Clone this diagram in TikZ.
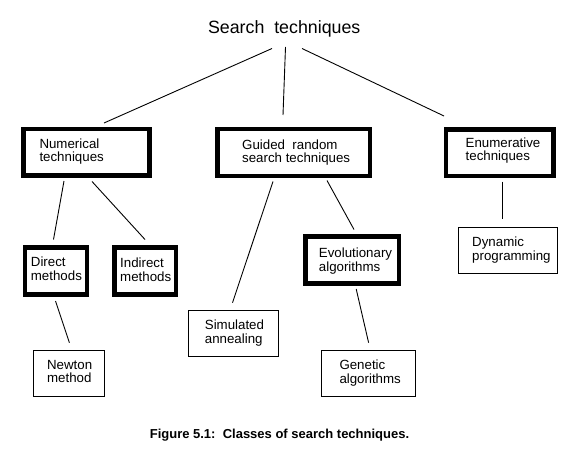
\documentclass[tikz,border=0pt]{standalone}
\usepackage{fontspec}
\setmainfont{Liberation Sans}
\usetikzlibrary{calc}
\begin{document}
\begin{tikzpicture}[x=1pt,y=-1pt,
  tbox/.style={draw, line width=4.5pt, inner sep=0pt, anchor=north west},
  nbox/.style={draw, line width=1pt, inner sep=0pt, anchor=north west},
  lbl/.style={font=\fontsize{13.3}{13.5}\selectfont, align=left, inner sep=0pt, anchor=north west},
  conn/.style={line width=0.9pt}]
\useasboundingbox[fill=white] (0,0) rectangle (585,465);
% title
\node[font=\fontsize{17.8}{20}\selectfont, inner sep=0pt, anchor=base] (title) at (284.2,33.5) {Search\ \ techniques};
% level 1
\node[tbox, minimum width=126.2pt, minimum height=46.5pt] (num) at (21,126.7) {};
\node[tbox, minimum width=152.5pt, minimum height=46.5pt] (guided) at (215,127) {};
\node[tbox, minimum width=107.5pt, minimum height=46.2pt] (enum) at (443.5,127.3) {};
% level 2
\node[tbox, minimum width=62.1pt, minimum height=47.2pt] (direct) at (22.7,245) {};
\node[tbox, minimum width=61.2pt, minimum height=47.2pt] (indirect) at (112.3,245) {};
\node[tbox, minimum width=93.5pt, minimum height=47.2pt] (evo) at (303,234) {};
\node[nbox, minimum width=99.5pt, minimum height=46pt] (dyn) at (457.5,226.5) {};
\node[nbox, minimum width=90pt, minimum height=46.5pt] (sim) at (188,309.5) {};
% level 3
\node[nbox, minimum width=71.5pt, minimum height=46.5pt] (newton) at (32.5,349.5) {};
\node[nbox, minimum width=93.5pt, minimum height=46.5pt] (genetic) at (321,349.5) {};
% texts
\node[lbl] (numt) at ($(num.north west)+(18.3,11.6)$) {Numerical\\techniques};
\node[lbl] (guidedt) at ($(guided.north west)+(27,12.5)$) {Guided\ \ random\\search\ techniques};
\node[lbl] (enumt) at ($(enum.north west)+(22,10.2)$) {Enumerative\\techniques};
\node[lbl] (directt) at ($(direct.north west)+(8,11.7)$) {Direct\\methods};
\node[lbl] (indirectt) at ($(indirect.north west)+(7.7,13)$) {Indirect\\methods};
\node[lbl] (evot) at ($(evo.north west)+(15.7,14)$) {Evolutionary\\algorithms};
\node[lbl] (dynt) at ($(dyn.north west)+(14.5,10.5)$) {Dynamic\\programming};
\node[lbl] (simt) at ($(sim.north west)+(16.7,10.5)$) {Simulated\\annealing};
\node[lbl] (newtont) at ($(newton.north west)+(14.4,10.5)$) {Newton\\method};
\node[lbl] (genetict) at ($(genetic.north west)+(18.3,10.5)$) {Genetic\\algorithms};
% connectors
\draw[conn] ($(title.base)+(-12.2,15)$) -- ($(num.north west)+(83,-3.7)$);
\draw[conn] ($(title.base)+(1.3,13.5)$) -- ($(guided.north west)+(68,-12)$);
\draw[conn] ($(title.base)+(17.8,15)$) -- ($(enum.north west)+(0.5,-11.3)$);
\draw[conn] ($(num.south west)+(43,3.3)$) -- ($(direct.north west)+(30.8,-5.5)$);
\draw[conn] ($(num.south west)+(71,3.8)$) -- ($(indirect.north west)+(32.7,-5.5)$);
\draw[conn] ($(guided.south west)+(58,3.5)$) -- ($(sim.north west)+(44.5,-6.8)$);
\draw[conn] ($(guided.south west)+(112,2.5)$) -- ($(evo.north west)+(51,-4.5)$);
\draw[conn] ($(enum.south west)+(59,3.5)$) -- ($(dyn.north west)+(45,-8)$);
\draw[conn] ($(direct.south west)+(32.8,4.3)$) -- ($(newton.north west)+(36.9,-6.8)$);
\draw[conn] ($(evo.south west)+(53.2,3.3)$) -- ($(genetic.north west)+(47.6,-6.8)$);
% caption
\node[font=\bfseries\fontsize{13}{15}\selectfont, inner sep=0pt, anchor=base] (caption) at (279.5,438.7) {Figure 5.1:\ \ Classes of search techniques.};
\end{tikzpicture}
\end{document}
